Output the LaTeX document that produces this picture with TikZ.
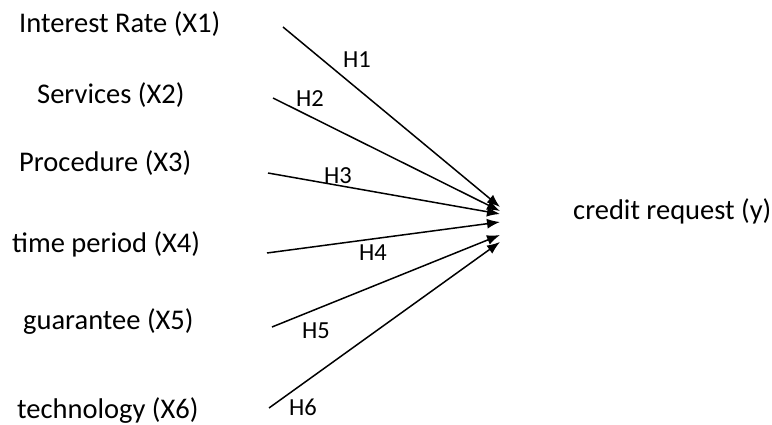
\documentclass[tikz,border=0pt]{standalone}
\usepackage{fontspec}
\setmainfont{Carlito}

\begin{document}
\begin{tikzpicture}[x=1pt, y=-1pt,
    varlabel/.style={anchor=base west, inner sep=0pt, font=\fontsize{28.5}{32}\selectfont},
    hlabel/.style={anchor=base, inner sep=0pt, font=\fontsize{24.5}{28}\selectfont},
    path/.style={line width=1.5pt, -{Latex[length=13pt, width=10pt]}}]
    \usetikzlibrary{arrows.meta}
    \useasboundingbox (0,0) rectangle (772,425);

    % 変数のラベル
    \node[varlabel] (x1) at (19,33) {Interest Rate (X1)};
    \node[varlabel] (x2) at (37,104) {Services (X2)};
    \node[varlabel] (x3) at (19,172) {Procedure (X3)};
    \node[varlabel] (x4) at (12,252) {time period (X4)};
    \node[varlabel] (x5) at (23,329) {guarantee (X5)};
    \node[varlabel] (x6) at (17,418) {technology (X6)};
    \node[varlabel] (y) at (573,220) {credit request (y)};

    % 矢印の始点・終点
    \coordinate (s1) at (283,27);
    \coordinate (s2) at (273,98);
    \coordinate (s3) at (268,173);
    \coordinate (s4) at (267,253);
    \coordinate (s5) at (272,327);
    \coordinate (s6) at (269,408);
    \coordinate (e1) at (500,207);
    \coordinate (e2) at (500,211);
    \coordinate (e3) at (500,214);
    \coordinate (e4) at (500,222);
    \coordinate (e5) at (500,235);
    \coordinate (e6) at (500,242);

    % 矢印の描画
    \draw[path] (s1) -- (e1);
    \draw[path] (s2) -- (e2);
    \draw[path] (s3) -- (e3);
    \draw[path] (s4) -- (e4);
    \draw[path] (s5) -- (e5);
    \draw[path] (s6) -- (e6);

    % 仮説のラベル
    \node[hlabel] (h1) at (357,68) {H1};
    \node[hlabel] (h2) at (310,107) {H2};
    \node[hlabel] (h3) at (338,184) {H3};
    \node[hlabel] (h4) at (373,261) {H4};
    \node[hlabel] (h5) at (316,338) {H5};
    \node[hlabel] (h6) at (303,415) {H6};

\end{tikzpicture}
\end{document}
